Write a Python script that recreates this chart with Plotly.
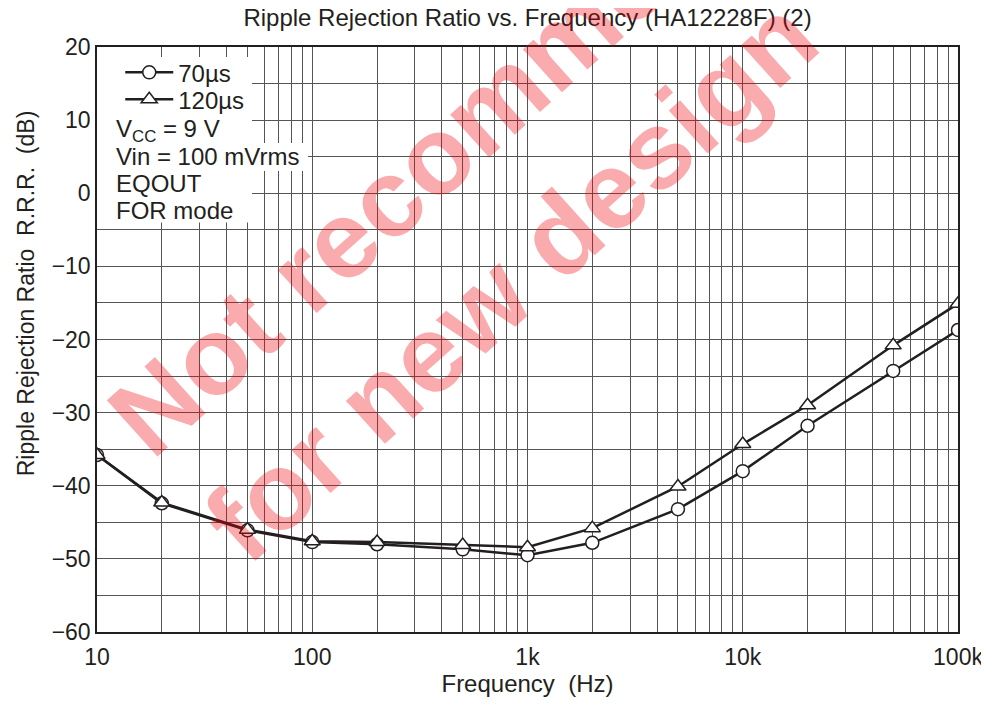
import plotly.graph_objects as go

# ---- data ----
freq_hz = [10, 20, 50, 100, 200, 500, 1000, 2000, 5000, 10000, 20000, 50000, 100000]
rrr_70us = [-35.8, -42.4, -46.1, -47.7, -48.0, -48.7, -49.5, -47.8, -43.2, -38.0, -31.8, -24.3, -18.7]
rrr_120us = [-35.8, -42.3, -46.0, -47.6, -47.7, -48.1, -48.4, -45.8, -40.1, -34.3, -29.0, -20.8, -15.1]

x_major_vals = [10, 100, 1000, 10000, 100000]
x_major_text = ["10", "100", "1k", "10k", "100k"]
y_major_vals = [20, 10, 0, -10, -20, -30, -40, -50, -60]
y_major_text = ["20", "10", "0", "\u221210", "\u221220", "\u221230", "\u221240", "\u221250", "\u221260"]

series_names = ["70\u00b5s", "120\u00b5s"]
conditions = ["V<sub>CC</sub> = 9 V", "Vin = 100 mVrms", "EQOUT", "FOR mode"]
title_text = "Ripple Rejection Ratio vs. Frequency (HA12228F) (2)"
x_title = "Frequency\u00a0\u00a0(Hz)"
y_title = "Ripple Rejection Ratio\u00a0\u00a0R.R.R.\u00a0\u00a0(dB)"
watermark = "<b>Not recommended<br>for new design</b>"

# minor / grid positions
x_grid_vals = [m * 10 ** d for d in range(1, 5) for m in range(1, 10)] + [100000]
x_grid_text = [x_major_text[x_major_vals.index(v)] if v in x_major_vals else "" for v in x_grid_vals]
y_grid_vals = list(range(20, -61, -5))
y_grid_text = [y_major_text[y_major_vals.index(v)] if v in y_major_vals else "" for v in y_grid_vals]

FONT = "Liberation Sans, Arial, Helvetica, sans-serif"
INK = "#231f20"

fig = go.Figure()
fig.add_trace(go.Scatter(
    x=freq_hz, y=rrr_70us, name=series_names[0], mode="lines+markers", legend="legend",
    line=dict(color=INK, width=2.5),
    marker=dict(symbol="circle", size=13, color="white", line=dict(color=INK, width=1.5)),
))
fig.add_trace(go.Scatter(
    x=freq_hz, y=rrr_120us, name=series_names[1], mode="lines+markers", legend="legend2",
    line=dict(color=INK, width=2.5),
    marker=dict(symbol="triangle-up", size=14, color="white", line=dict(color=INK, width=1.5)),
))

# white backing box for the legend/conditions block
fig.add_shape(type="rect", xref="paper", yref="paper", x0=0.0, x1=0.18, y0=0.70, y1=0.983,
              fillcolor="white", line=dict(width=0), layer="above")
fig.add_shape(type="rect", xref="paper", yref="paper", x0=0.0, x1=0.245, y0=0.788, y1=0.836,
              fillcolor="white", line=dict(width=0), layer="above")

cond_y = [0.857, 0.812, 0.766, 0.72]
for txt, yy in zip(conditions, cond_y):
    fig.add_annotation(text=txt, xref="paper", yref="paper", x=0.020, y=yy,
                       xanchor="left", yanchor="middle", showarrow=False,
                       font=dict(family=FONT, size=24, color=INK))

# y-axis title (sits above the axis centre in the original)
fig.add_annotation(text=y_title, xref="paper", yref="paper", x=-0.0825, y=0.579,
                   xanchor="center", yanchor="middle", showarrow=False, textangle=-90,
                   font=dict(family=FONT, size=23, color=INK))

# watermark
fig.add_annotation(text=watermark, xref="paper", yref="paper", x=0.506, y=0.802,
                   xanchor="center", yanchor="middle", showarrow=False, textangle=-42,
                   align="left",
                   font=dict(family=FONT, size=110, color="rgba(240,0,10,0.33)"))

legend_common = dict(xanchor="left", yanchor="middle", bgcolor="rgba(255,255,255,0)",
                     borderwidth=0, font=dict(family=FONT, size=24, color=INK),
                     tracegroupgap=0, itemwidth=48)
fig.update_layout(
    width=981, height=696,
    margin=dict(l=89, r=31, t=39, b=72, autoexpand=False),
    paper_bgcolor="white", plot_bgcolor="white",
    font=dict(family=FONT, size=23, color=INK),
    title=dict(text=title_text, x=0.5, xref="paper", y=1 - 10 / 696, yref="container",
               xanchor="center", yanchor="middle", font=dict(family=FONT, size=24, color=INK)),
    showlegend=True,
    legend=dict(x=0.027, y=0.956, **legend_common),
    legend2=dict(x=0.027, y=0.910, **legend_common),
)
fig.update_xaxes(
    type="log", range=[1, 5], automargin=False,
    tickmode="array", tickvals=x_grid_vals, ticktext=x_grid_text,
    showgrid=True, gridcolor="#555555", gridwidth=1,
    showline=True, linecolor=INK, linewidth=1.5, mirror=True,
    ticks="", tickfont=dict(family=FONT, size=23, color=INK), ticklabelstandoff=4,
    title=dict(text=x_title, font=dict(family=FONT, size=24, color=INK), standoff=6),
    zeroline=False,
)
fig.update_yaxes(
    range=[-60, 20], automargin=False,
    tickmode="array", tickvals=y_grid_vals, ticktext=y_grid_text,
    showgrid=True, gridcolor="#555555", gridwidth=1,
    showline=True, linecolor=INK, linewidth=1.5, mirror=True,
    ticks="", tickfont=dict(family=FONT, size=23, color=INK),
    zeroline=False,
)

fig.write_html("out.html")
